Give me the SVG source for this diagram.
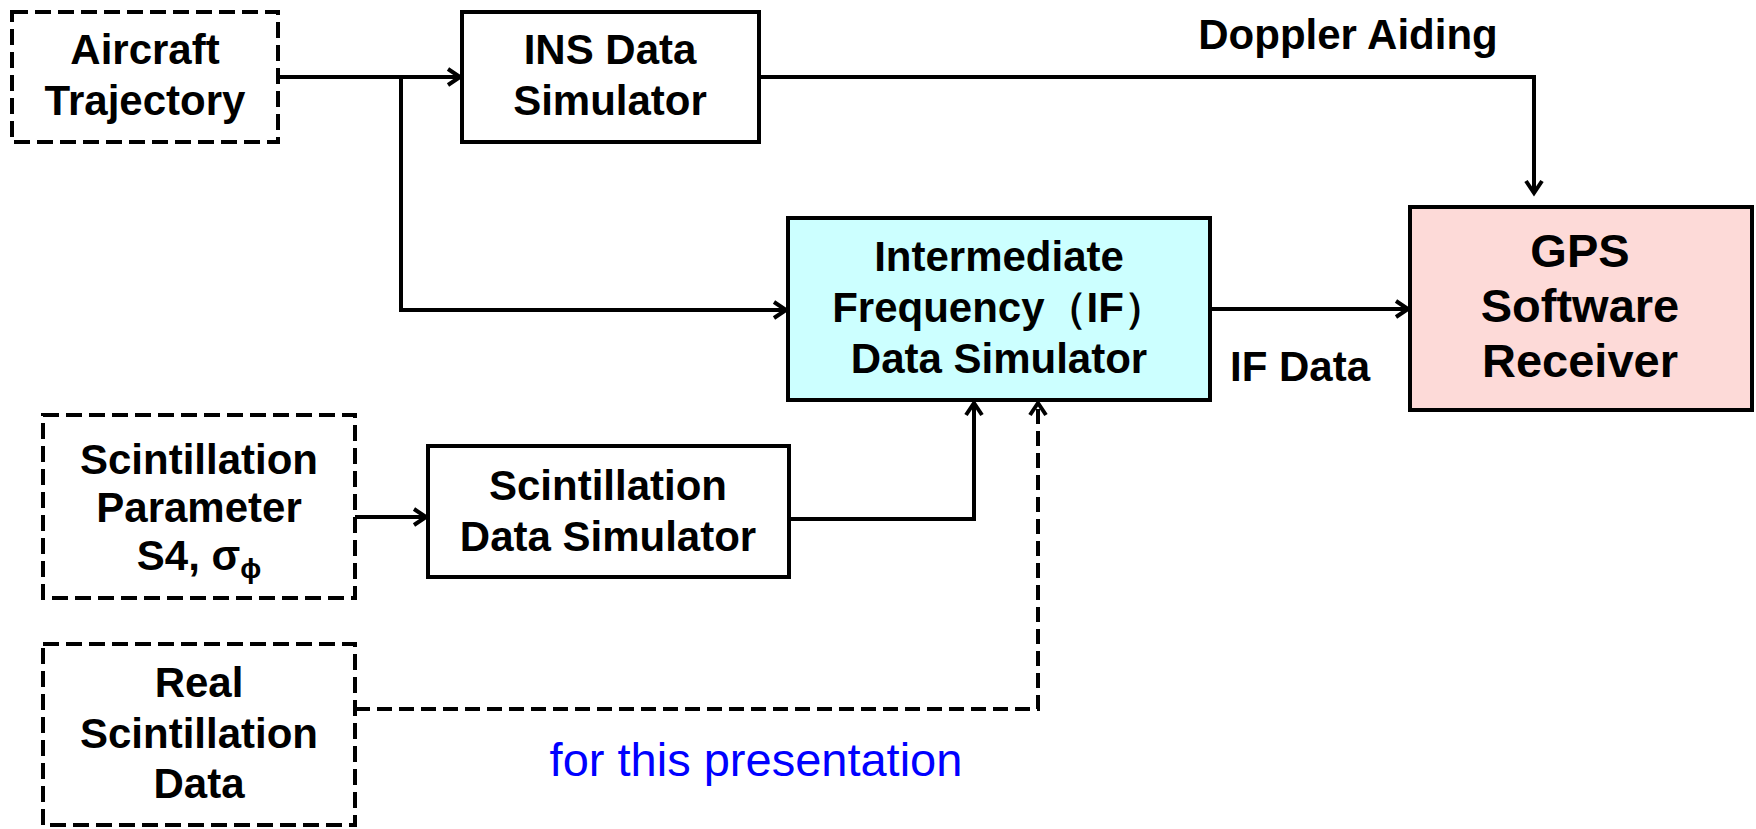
<svg xmlns="http://www.w3.org/2000/svg" width="1756" height="829" viewBox="0 0 1756 829">
<style>
.box{fill:#fff;stroke:#000;stroke-width:4}
.dbox{fill:#fff;stroke:#000;stroke-width:4;stroke-dasharray:16 7}
.t{font-family:"Liberation Sans",Arial,sans-serif;font-weight:bold;font-size:42px;text-anchor:middle;fill:#000}
.big{font-size:47px}
.ln{fill:none;stroke:#000;stroke-width:4}
.dl{fill:none;stroke:#000;stroke-width:4;stroke-dasharray:15 7}
</style>
<defs>
<marker id="ar" markerUnits="userSpaceOnUse" markerWidth="20" markerHeight="24" refX="15" refY="10" orient="auto" viewBox="0 0 20 20">
<path d="M3,2 L15,10 L3,18" fill="none" stroke="#000" stroke-width="4"/>
</marker>
</defs>
<g id="connectors">
<path class="ln" d="M278,77 H460" marker-end="url(#ar)"/>
<path class="ln" d="M401,77 V310 H786" marker-end="url(#ar)"/>
<path class="ln" d="M759,77 H1534 V193" marker-end="url(#ar)"/>
<path class="ln" d="M1210,309 H1408" marker-end="url(#ar)"/>
<path class="ln" d="M355,517 H426" marker-end="url(#ar)"/>
<path class="ln" d="M789,519 H974 V403" marker-end="url(#ar)"/>
<path class="dl" d="M355,709 H1038 V403" marker-end="url(#ar)"/>
</g>
<g id="aircraft">
<rect class="dbox" x="12" y="12" width="266" height="130"/>
<text class="t" x="145" y="64">Aircraft</text>
<text class="t" x="145" y="115">Trajectory</text>
</g>
<g id="ins">
<rect class="box" x="462" y="12" width="297" height="130"/>
<text class="t" x="610" y="64">INS Data</text>
<text class="t" x="610" y="115">Simulator</text>
</g>
<g id="doppler-label">
<text class="t" x="1348" y="49">Doppler Aiding</text>
</g>
<g id="if-sim">
<rect class="box" x="788" y="218" width="422" height="182" style="fill:#ccffff"/>
<text class="t" x="999" y="271">Intermediate</text>
<text class="t" x="999" y="322">Frequency（IF）</text>
<text class="t" x="999" y="373">Data Simulator</text>
</g>
<g id="if-label">
<text class="t" x="1230" y="381" style="text-anchor:start">IF Data</text>
</g>
<g id="gps">
<rect class="box" x="1410" y="207" width="342" height="203" style="fill:#fddad8"/>
<text class="t big" x="1580" y="267">GPS</text>
<text class="t big" x="1580" y="322">Software</text>
<text class="t big" x="1580" y="377">Receiver</text>
</g>
<g id="scint-param">
<rect class="dbox" x="43" y="415" width="312" height="183"/>
<text class="t" x="199" y="474">Scintillation</text>
<text class="t" x="199" y="522">Parameter</text>
<text class="t" x="199" y="570">S4, σ<tspan font-size="28" dy="8">ϕ</tspan></text>
</g>
<g id="scint-sim">
<rect class="box" x="428" y="446" width="361" height="131"/>
<text class="t" x="608" y="500">Scintillation</text>
<text class="t" x="608" y="551">Data Simulator</text>
</g>
<g id="real-data">
<rect class="dbox" x="43" y="644" width="312" height="181"/>
<text class="t" x="199" y="697">Real</text>
<text class="t" x="199" y="748">Scintillation</text>
<text class="t" x="199" y="798">Data</text>
</g>
<g id="note">
<text x="756" y="776" style="font-family:'Liberation Sans',Arial,sans-serif;font-size:47px;fill:#0000ff;text-anchor:middle">for this presentation</text>
</g>
</svg>
